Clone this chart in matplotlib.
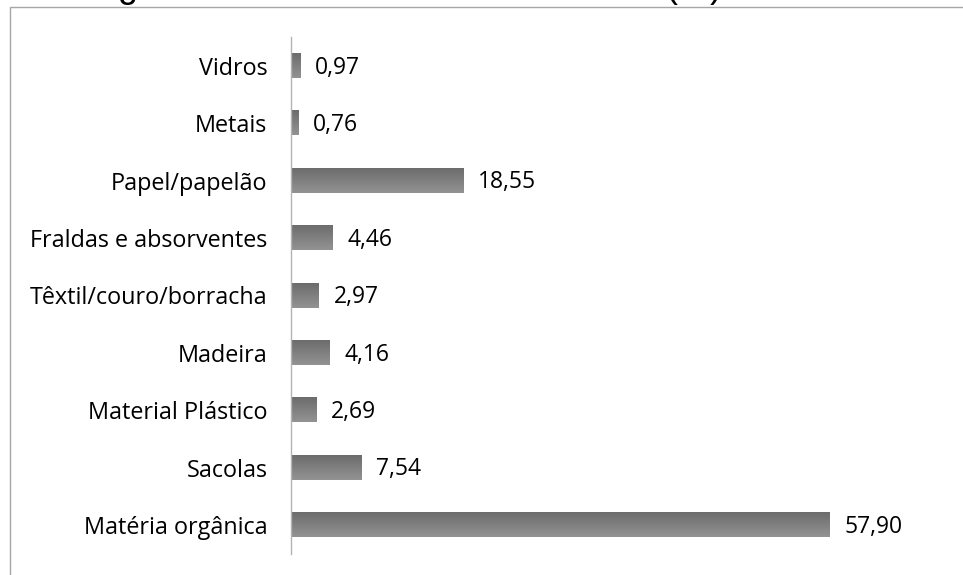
import numpy as np
import matplotlib
matplotlib.use("Agg")
import matplotlib.pyplot as plt
from matplotlib.patches import Rectangle

categories = ["Vidros", "Metais", "Papel/papelão", "Fraldas e absorventes",
              "Têxtil/couro/borracha", "Madeira", "Material Plástico",
              "Sacolas", "Matéria orgânica"]
values = [0.97, 0.76, 18.55, 4.46, 2.97, 4.16, 2.69, 7.54, 57.90]
value_labels = ["0,97", "0,76", "18,55", "4,46", "2,97", "4,16", "2,69", "7,54", "57,90"]
title = "Figura 3 - Gravimetria dos resíduos (%)"

W, H = 963, 575
fig = plt.figure(figsize=(W / 100, H / 100), dpi=100)
fig.patch.set_facecolor("white")

# chart frame (extends past the right and bottom edges)
fig.patches.append(Rectangle((10 / W, -0.1), 1.2, 1.1 - 7 / H,
                             transform=fig.transFigure, fill=False,
                             edgecolor="#a6a6a6", linewidth=1.0))

fig.text(405 / W, 1 + 3.0 / H, title, ha="center", va="baseline",
         fontsize=26, family="Liberation Sans", color="black")

ax = fig.add_axes([291 / W, 1 - 553.7 / H, (W - 291) / W, (553.7 - 37.3) / H])
n = len(categories)
ypos = np.arange(n)
bar_h = 0.42

# vertical gradient: lighter on top, darker at the bottom
grad = np.linspace(0, 1, 64).reshape(-1, 1)
cmap = matplotlib.colors.LinearSegmentedColormap.from_list("g", ["#939393", "#6c6c6c"])
for y, v, lab in zip(ypos, values, value_labels):
    ax.imshow(grad, cmap=cmap, aspect="auto", interpolation="bilinear",
              extent=(0, v, y - bar_h / 2, y + bar_h / 2), origin="upper", zorder=2)
    ax.text(v + 1.6, y + 0.03, lab, va="center", ha="left", fontsize=16.5,
            family="Open Sans", color="black")
ax.set_ylim(n - 0.5, -0.5)
ax.set_xlim(0, 72.3)

ax.set_yticks(ypos)
ax.set_yticklabels(categories, fontsize=16.8, family="Open Sans")
ax.tick_params(axis="y", length=0, pad=17)
ax.set_xticks([])
for s in ["top", "right", "bottom"]:
    ax.spines[s].set_visible(False)
ax.spines["left"].set_color("#b3b3b3")
ax.spines["left"].set_linewidth(1.0)
ax.set_facecolor("none")

fig.savefig("out.png", dpi=100)
